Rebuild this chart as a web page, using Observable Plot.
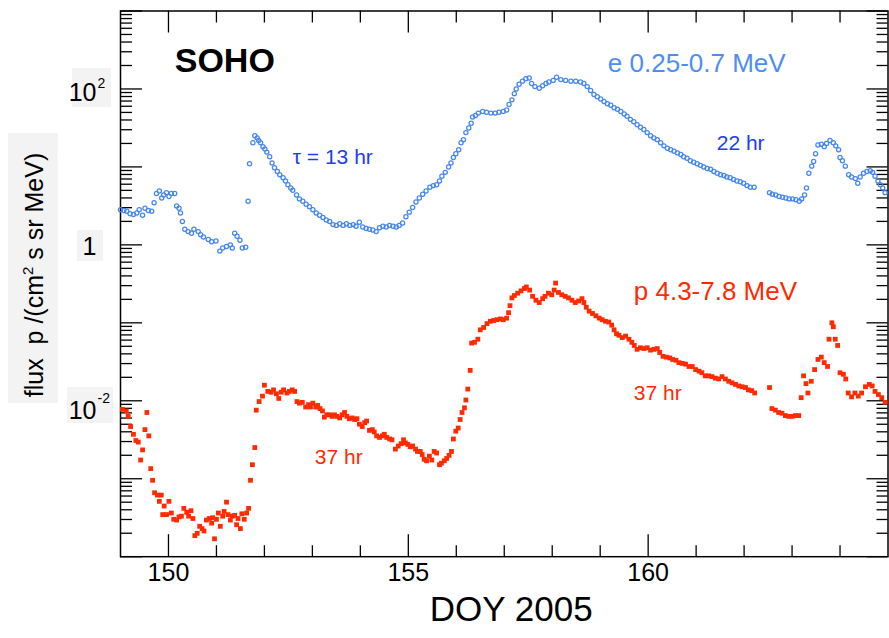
<!DOCTYPE html>
<html><head><meta charset="utf-8">
<script src="https://cdn.jsdelivr.net/npm/d3@7"></script>
<script src="https://cdn.jsdelivr.net/npm/@observablehq/plot@0.6"></script>
<style>
html,body{margin:0;padding:0;background:#fff}
#chart svg{display:block;font-family:"Liberation Sans",Arial,Helvetica,sans-serif}
</style>
</head><body><div id="chart"></div>
<script>
// ---- Electrons e 0.25-0.7 MeV (day of year, log10 flux) ----
const eDay = [
149.00,149.07,149.13,149.20,149.27,149.34,149.39,149.46,149.51,149.58,
149.65,149.70,149.75,149.81,149.86,149.90,149.96,150.01,150.06,150.13,
150.17,150.22,150.25,150.29,150.34,150.41,150.48,150.53,150.62,150.67,
150.73,150.83,150.90,150.99,151.07,151.13,151.21,151.29,151.33,151.38,
151.43,151.49,151.54,151.61,151.66,151.69,151.76,151.80,151.85,151.88,
151.92,151.97,152.01,152.05,152.11,152.16,152.21,152.27,152.32,152.39,
152.44,152.49,152.55,152.59,152.67,152.73,152.80,152.87,152.94,153.01,
153.08,153.15,153.22,153.29,153.36,153.43,153.50,153.57,153.64,153.71,
153.78,153.85,153.91,153.98,154.05,154.12,154.19,154.26,154.33,154.40,
154.47,154.54,154.61,154.68,154.75,154.81,154.88,154.95,155.02,155.09,
155.16,155.23,155.30,155.37,155.45,155.52,155.59,155.65,155.70,155.77,
155.84,155.89,155.94,155.99,156.05,156.10,156.15,156.20,156.26,156.31,
156.34,156.40,156.46,156.55,156.63,156.72,156.81,156.89,156.98,157.05,
157.10,157.16,157.21,157.25,157.31,157.38,157.45,157.52,157.57,157.64,
157.73,157.80,157.87,157.93,158.02,158.09,158.18,158.28,158.39,158.49,
158.59,158.66,158.73,158.80,158.87,158.94,159.01,159.08,159.15,159.22,
159.29,159.36,159.43,159.50,159.56,159.63,159.70,159.77,159.84,159.91,
159.98,160.05,160.12,160.19,160.26,160.33,160.40,160.47,160.54,160.61,
160.68,160.74,160.81,160.88,160.95,161.02,161.09,161.16,161.23,161.30,
161.37,161.44,161.51,161.58,161.64,161.71,161.78,161.85,161.92,161.99,
162.06,162.13,162.21,162.53,162.59,162.66,162.73,162.80,162.87,162.94,
163.01,163.08,163.15,163.20,163.26,163.30,163.35,163.41,163.45,163.49,
163.54,163.61,163.67,163.72,163.79,163.86,163.91,163.97,164.00,164.05,
164.11,164.18,164.24,164.32,164.37,164.42,164.49,164.56,164.63,164.68,
164.73,164.79,164.84,164.89,164.94];
const eLog10Flux = [
0.45,0.44,0.43,0.40,0.39,0.41,0.45,0.38,0.47,0.44,
0.43,0.54,0.66,0.69,0.60,0.64,0.67,0.62,0.66,0.66,
0.50,0.47,0.41,0.30,0.20,0.17,0.15,0.20,0.17,0.13,
0.10,0.07,0.04,0.05,-0.08,-0.04,-0.02,0.00,-0.04,0.15,
0.11,0.06,-0.04,-0.03,0.56,1.04,1.31,1.40,1.37,1.34,
1.31,1.26,1.23,1.19,1.13,1.05,0.99,0.94,0.90,0.86,
0.82,0.77,0.73,0.70,0.64,0.59,0.56,0.52,0.49,0.45,
0.41,0.38,0.35,0.32,0.30,0.26,0.25,0.27,0.25,0.27,
0.25,0.26,0.24,0.29,0.23,0.21,0.20,0.19,0.17,0.22,
0.24,0.23,0.25,0.24,0.23,0.25,0.28,0.36,0.42,0.48,
0.55,0.60,0.65,0.69,0.74,0.76,0.77,0.82,0.88,0.93,
1.00,1.05,1.12,1.17,1.22,1.31,1.35,1.44,1.50,1.56,
1.64,1.66,1.69,1.71,1.70,1.69,1.69,1.70,1.71,1.73,
1.80,1.86,1.94,2.00,2.06,2.10,2.13,2.14,2.07,2.03,
2.01,2.04,2.07,2.09,2.11,2.15,2.12,2.11,2.10,2.10,
2.09,2.07,2.03,1.98,1.93,1.90,1.87,1.84,1.81,1.79,
1.76,1.74,1.71,1.68,1.65,1.61,1.58,1.54,1.51,1.48,
1.44,1.40,1.37,1.35,1.31,1.27,1.24,1.22,1.20,1.18,
1.16,1.13,1.11,1.08,1.06,1.04,1.02,1.00,0.98,0.97,
0.94,0.92,0.90,0.89,0.87,0.86,0.84,0.82,0.81,0.79,
0.76,0.74,0.74,0.67,0.65,0.64,0.62,0.61,0.60,0.59,
0.59,0.58,0.56,0.59,0.64,0.73,0.92,1.01,1.07,1.17,
1.28,1.29,1.26,1.30,1.34,1.31,1.27,1.22,1.12,1.08,
1.01,0.90,0.87,0.85,0.79,0.87,0.92,0.94,0.95,0.93,
0.88,0.82,0.77,0.73,0.67];

// ---- Protons p 4.3-7.8 MeV (day of year, log10 flux) ----
const pDay = [
149.04,149.12,149.16,149.21,149.27,149.32,149.37,149.42,149.46,149.51,
149.55,149.59,149.63,149.67,149.71,149.77,149.81,149.85,149.88,149.91,
149.96,150.01,150.06,150.11,150.17,150.22,150.27,150.32,150.38,150.42,
150.47,150.51,150.55,150.60,150.65,150.70,150.74,150.79,150.85,150.90,
150.92,150.96,151.00,151.04,151.08,151.13,151.16,151.21,151.24,151.29,
151.33,151.38,151.42,151.45,151.50,151.53,151.58,151.63,151.67,151.71,
151.75,151.80,151.83,151.89,151.96,152.00,152.07,152.14,152.19,152.25,
152.30,152.35,152.40,152.47,152.52,152.58,152.63,152.68,152.73,152.79,
152.86,152.92,152.96,153.01,153.07,153.11,153.16,153.21,153.25,153.30,
153.36,153.41,153.46,153.51,153.57,153.62,153.67,153.72,153.77,153.83,
153.88,153.93,153.98,154.04,154.09,154.13,154.19,154.25,154.29,154.34,
154.40,154.46,154.50,154.55,154.61,154.66,154.73,154.79,154.85,154.90,
154.94,154.99,155.04,155.09,155.15,155.19,155.25,155.29,155.33,155.38,
155.44,155.49,155.54,155.59,155.65,155.69,155.75,155.80,155.85,155.90,
155.94,155.99,156.04,156.08,156.12,156.17,156.20,156.24,156.29,156.32,
156.38,156.45,156.50,156.57,156.64,156.71,156.78,156.85,156.92,156.98,
157.05,157.09,157.12,157.16,157.21,157.28,157.35,157.42,157.46,157.53,
157.59,157.66,157.73,157.80,157.85,157.92,157.99,158.04,158.07,158.13,
158.20,158.27,158.34,158.41,158.48,158.55,158.62,158.66,158.71,158.77,
158.84,158.91,158.98,159.04,159.11,159.18,159.24,159.29,159.34,159.39,
159.46,159.53,159.60,159.66,159.71,159.77,159.84,159.91,159.98,160.05,
160.12,160.19,160.24,160.31,160.38,160.45,160.51,160.58,160.64,160.71,
160.78,160.85,160.92,160.99,161.06,161.12,161.19,161.26,161.33,161.40,
161.47,161.54,161.61,161.68,161.75,161.82,161.89,161.96,162.03,162.09,
162.16,162.22,162.53,162.58,162.65,162.72,162.79,162.86,162.93,163.00,
163.07,163.14,163.19,163.24,163.29,163.33,163.40,163.47,163.54,163.61,
163.67,163.74,163.77,163.83,163.86,163.90,163.95,164.00,164.07,164.12,
164.17,164.24,164.31,164.38,164.45,164.53,164.61,164.67,164.73,164.80,
164.87,164.94];
const pLog10Flux = [
-2.11,-2.13,-2.20,-2.33,-2.43,-2.51,-2.53,-2.76,-2.63,-2.37,
-2.15,-2.45,-2.87,-3.02,-3.18,-3.21,-3.29,-3.21,-3.46,-3.35,
-3.46,-3.29,-3.44,-3.52,-3.53,-3.49,-3.48,-3.38,-3.43,-3.48,
-3.41,-3.51,-3.73,-3.70,-3.61,-3.64,-3.67,-3.53,-3.51,-3.57,
-3.50,-3.77,-3.52,-3.44,-3.61,-3.48,-3.42,-3.30,-3.46,-3.53,
-3.48,-3.47,-3.59,-3.51,-3.64,-3.45,-3.52,-3.44,-3.38,-3.02,
-2.82,-2.60,-2.12,-2.01,-1.94,-1.80,-1.88,-1.89,-1.86,-1.91,
-1.97,-1.89,-1.86,-1.90,-1.88,-1.86,-1.88,-2.01,-2.03,-2.02,
-2.08,-2.05,-2.08,-2.03,-2.08,-2.06,-2.10,-2.13,-2.21,-2.18,
-2.18,-2.20,-2.18,-2.20,-2.22,-2.18,-2.15,-2.20,-2.23,-2.22,
-2.24,-2.23,-2.30,-2.33,-2.28,-2.26,-2.38,-2.37,-2.40,-2.45,
-2.47,-2.45,-2.43,-2.47,-2.49,-2.50,-2.62,-2.58,-2.55,-2.50,
-2.54,-2.56,-2.59,-2.58,-2.62,-2.65,-2.65,-2.69,-2.75,-2.77,
-2.71,-2.76,-2.65,-2.67,-2.82,-2.80,-2.77,-2.74,-2.70,-2.65,
-2.49,-2.39,-2.35,-2.24,-2.15,-2.09,-1.99,-1.85,-1.61,-1.26,
-1.25,-1.21,-1.09,-1.06,-1.01,-0.98,-0.97,-0.96,-0.95,-0.96,
-0.94,-0.87,-0.78,-0.68,-0.65,-0.62,-0.59,-0.56,-0.54,-0.58,
-0.66,-0.71,-0.74,-0.69,-0.66,-0.62,-0.64,-0.58,-0.49,-0.61,
-0.64,-0.66,-0.68,-0.71,-0.74,-0.72,-0.69,-0.74,-0.80,-0.85,
-0.88,-0.91,-0.94,-0.96,-0.98,-0.99,-1.03,-1.09,-1.14,-1.16,
-1.19,-1.17,-1.21,-1.25,-1.29,-1.34,-1.32,-1.33,-1.32,-1.35,
-1.34,-1.33,-1.38,-1.43,-1.44,-1.45,-1.47,-1.48,-1.51,-1.52,
-1.53,-1.56,-1.56,-1.60,-1.62,-1.64,-1.68,-1.68,-1.69,-1.71,
-1.72,-1.69,-1.72,-1.75,-1.77,-1.79,-1.81,-1.82,-1.83,-1.86,
-1.87,-1.90,-1.83,-2.10,-2.12,-2.15,-2.16,-2.19,-2.20,-2.20,
-2.19,-2.19,-1.96,-1.68,-1.78,-1.90,-1.75,-1.60,-1.47,-1.44,
-1.51,-1.56,-1.21,-1.00,-1.05,-1.21,-1.29,-1.64,-1.66,-1.72,
-1.90,-1.95,-1.90,-1.94,-1.90,-1.82,-1.79,-1.81,-1.88,-1.92,
-1.96,-2.02];

// ---- Axes: ticks and labels ----
const xMajorTicks = [150, 155, 160];
const xMinorTicks = [151, 152, 153, 154, 156, 157, 158, 159, 161, 162, 163, 164];
const yDecades = [1e-4, 1e-3, 1e-2, 1e-1, 1, 1e1, 1e2, 1e3];
const yMinorMultipliers = [2, 3, 4, 5, 6, 7, 8, 9];
const yLabelValues = [1e2, 1, 1e-2];
const yLabelBase = ["10", "1", "10"];
const yLabelExp = ["2", "", "-2"];
const xTitle = "DOY 2005";

// ---- Annotations (anchor day, anchor flux, text) ----
const annTitle = {day: 150.13, flux: 230, text: "SOHO"};
const annSeries = [
  {day: 159.16, flux: 213, text: "e 0.25-0.7 MeV", series: "e"},
  {day: 159.70, flux: 0.249, text: "p 4.3-7.8 MeV", series: "p"}
];
const annDecay = [
  {day: 152.59, flux: 13.4, text: "τ = 13 hr", series: "e"},
  {day: 161.43, flux: 20.3, text: "22 hr", series: "e"},
  {day: 153.05, flux: 0.00186, text: "37 hr", series: "p"},
  {day: 159.70, flux: 0.0124, text: "37 hr", series: "p"}
];

const electrons = eDay.map((d, i) => ({day: d, flux: Math.pow(10, eLog10Flux[i])}));
const protons = pDay.map((d, i) => ({day: d, flux: Math.pow(10, pLog10Flux[i])}));
const yMinorTicks = yDecades.slice(0, -1).flatMap(d => yMinorMultipliers.map(m => m * d));

const W = 889, H = 638, mL = 120, mR = 1.5, mT = 10.5, mB = 81.8;
const innerW = W - mL - mR, innerH = H - mT - mB;
const eColor = "#4487f0", eTextColor = "#4d8ef4", tauColor = "#1c3ef0", pColor = "#ff2a00";
const tick = {stroke: "black", strokeWidth: 1.3};
const yNudge = [4, 2, 10], expNudge = [-5, 0, -2];

const marks = [
  Plot.tickX(xMajorTicks, {x: d => d, insetTop: innerH - 22, ...tick}),
  Plot.tickX(xMinorTicks, {x: d => d, insetTop: innerH - 11, ...tick}),
  Plot.tickX(xMajorTicks, {x: d => d, insetBottom: innerH - 22, ...tick}),
  Plot.tickX(xMinorTicks, {x: d => d, insetBottom: innerH - 12, ...tick}),
  Plot.tickY(yDecades, {y: d => d, insetRight: innerW - 22, ...tick}),
  Plot.tickY(yMinorTicks, {y: d => d, insetRight: innerW - 12, ...tick}),
  Plot.tickY(yDecades, {y: d => d, insetLeft: innerW - 21, ...tick}),
  Plot.tickY(yMinorTicks, {y: d => d, insetLeft: innerW - 11, ...tick}),
  Plot.frame({stroke: "black", strokeWidth: 1.5}),
  Plot.dot(protons, {x: "day", y: "flux", symbol: "square", r: 2.7, fill: pColor, stroke: "none"}),
  Plot.dot(electrons, {x: "day", y: "flux", r: 2.1, stroke: eColor, strokeWidth: 1.25, fill: "none"}),
  Plot.text(xMajorTicks, {x: d => d, frameAnchor: "bottom", dy: 24, text: d => String(d), fontSize: 25, fill: "black"}),
  Plot.text([xTitle], {frameAnchor: "bottom", dx: 7, dy: 64, text: d => d, fontSize: 35, fill: "black"}),
  Plot.text([annTitle], {x: "day", y: "flux", text: "text", textAnchor: "start", fontSize: 34, fontWeight: "bold", fill: "black"}),
  Plot.text(annSeries, {x: "day", y: "flux", text: "text", textAnchor: "start", fontSize: 26, fill: d => d.series === "e" ? eTextColor : pColor}),
  Plot.text(annDecay, {x: "day", y: "flux", text: "text", textAnchor: "start", fontSize: 21, fill: d => d.series === "e" ? tauColor : pColor})
];
yLabelValues.forEach((v, i) => {
  marks.push(Plot.text([v], {y: d => d, frameAnchor: "left", textAnchor: "end", dx: -24, dy: yNudge[i], text: () => yLabelBase[i], fontSize: 25, fill: "black"}));
  if (yLabelExp[i]) marks.push(Plot.text([v], {y: d => d, frameAnchor: "left", textAnchor: "start", dx: -23, dy: expNudge[i], text: () => yLabelExp[i], fontSize: 14, fill: "black"}));
});

const chart = Plot.plot({
  width: W, height: H,
  marginLeft: mL, marginRight: mR, marginTop: mT, marginBottom: mB,
  style: {background: "white", fontFamily: "Liberation Sans, Arial, sans-serif", overflow: "visible"},
  x: {type: "linear", domain: [149, 165], axis: null},
  y: {type: "log", domain: [1e-4, 1e3], axis: null},
  marks
});

const svg = d3.select(chart);
// faint label backgrounds as in the scanned original
const boxes = [[8,133,50,270],[72,68,39,39],[77,230,26,31],[67,387,46,36]];
boxes.forEach(b => svg.insert("rect", ":first-child").attr("x", b[0]).attr("y", b[1]).attr("width", b[2]).attr("height", b[3]).attr("fill", "#f3f3f3"));
const yt = svg.append("text")
  .attr("transform", "translate(43,275) rotate(-90)")
  .attr("text-anchor", "middle").attr("font-size", 25).attr("fill", "black")
  .style("white-space", "pre");
yt.append("tspan").text("flux  p /(cm");
yt.append("tspan").attr("font-size", 15).attr("dy", -10).text("2");
yt.append("tspan").attr("dy", 10).text(" s sr MeV)");

document.getElementById("chart").appendChild(chart);
</script>
</body></html>
